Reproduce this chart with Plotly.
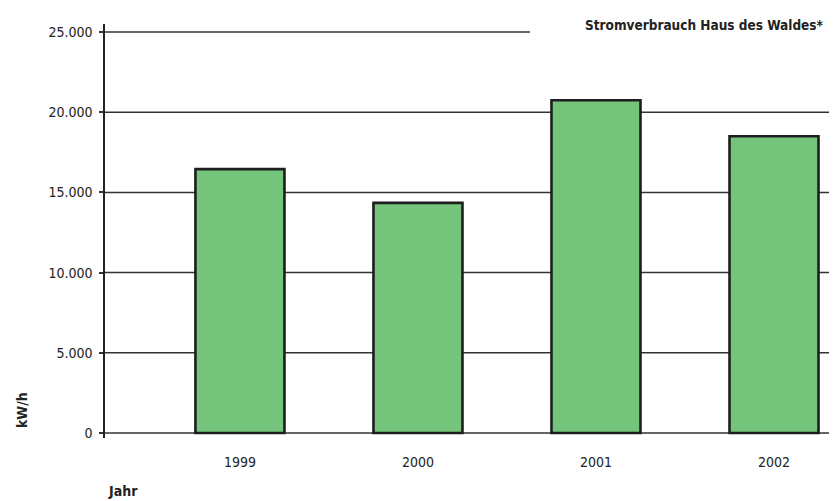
import plotly.graph_objects as go

years = ["1999", "2000", "2001", "2002"]
consumption = [16450, 14350, 20750, 18500]
y_ticks = [0, 5000, 10000, 15000, 20000, 25000]

FONT = "DejaVu Sans Condensed, Liberation Sans Narrow, sans-serif"

OFF = 8  # page body offset
W, H = 837 - OFF, 501 - OFF
ML, MT = 105 - OFF, 24 - OFF
PR, PB = 834 - OFF, 438 - OFF  # plot right / bottom in figure pixels
MR, MB = W - PR, H - PB
PW = W - ML - MR
PH = H - MT - MB

def px_x(p):
    return (p - OFF - ML) / PW

def px_y(p):
    return (H - MB - (p - OFF)) / PH

fig = go.Figure()
fig.add_trace(go.Bar(
    x=list(range(len(years))),
    y=consumption,
    width=0.5,
    marker=dict(color="#74C47C", line=dict(color="#1e1e1e", width=2.6)),
    hoverinfo="skip",
))

shapes = []
for v in y_ticks:
    x1 = px_x(530) if v == y_ticks[-1] else 1
    shapes.append(dict(type="line", xref="paper", yref="y", x0=0, x1=x1, y0=v, y1=v,
                       line=dict(color="#333333", width=1.5), layer="below"))

fig.update_layout(
    width=W, height=H,
    margin=dict(l=ML, r=MR, t=MT, b=MB),
    paper_bgcolor="white", plot_bgcolor="white",
    separators=",.",
    showlegend=False,
    bargap=0.5,
    shapes=shapes,
    font=dict(family=FONT, color="#222222", size=14),
    xaxis=dict(
        range=[-0.758, 3.337],
        tickmode="array", tickvals=list(range(len(years))), ticktext=years,
        showgrid=False, zeroline=False, showline=False, ticks="",
        ticklabelstandoff=14,
        tickfont=dict(family=FONT, size=14, color="#222222"),
    ),
    yaxis=dict(
        range=[-312, 25500],
        tickmode="array", tickvals=y_ticks,
        tickformat=",.0f",
        showgrid=False, zeroline=False,
        showline=True, linecolor="#222222", linewidth=1.5,
        ticks="outside", ticklen=4, tickcolor="#333333", tickwidth=1.5,
        ticklabelstandoff=4,
        tickfont=dict(family=FONT, size=14, color="#222222"),
    ),
    annotations=[
        dict(text="<b>Stromverbrauch Haus des Waldes*</b>", xref="paper", yref="paper",
             x=px_x(826), y=px_y(25), xanchor="right", yanchor="middle", showarrow=False,
             font=dict(family=FONT, size=13.5, color="#222222")),
        dict(text="<b>Jahr</b>", xref="paper", yref="paper",
             x=px_x(106), y=px_y(491), xanchor="left", yanchor="middle", showarrow=False,
             font=dict(family=FONT, size=14, color="#222222")),
        dict(text="<b>kW/h</b>", xref="paper", yref="paper", textangle=-90,
             x=px_x(22), y=px_y(410), xanchor="center", yanchor="middle", showarrow=False,
             font=dict(family=FONT, size=14, color="#222222")),
    ],
)

fig.write_html("out.html")
